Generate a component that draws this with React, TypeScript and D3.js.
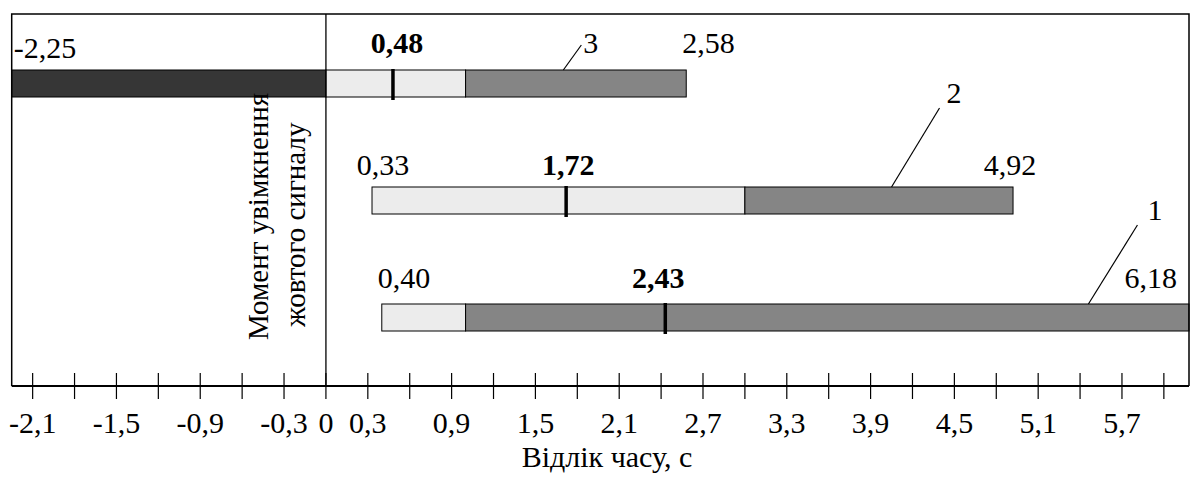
import React from "react";
import * as d3 from "d3";

// Rows (top to bottom) labelled by curve number
const rows = ["3", "2", "1"];
const preStart = [-2.25, null, null]; // dark segment before signal (row 3 only)
const starts = [0, 0.33, 0.4];
const lightEnds = [1.0, 3.0, 1.0];
const ends = [2.58, 4.92, 6.18];
const medians = [0.48, 1.72, 2.43];
const leaderAt = [1.7, 4.05, 5.46];

const tickValues = [-2.1, -1.8, -1.5, -1.2, -0.9, -0.6, -0.3, 0, 0.3, 0.6, 0.9, 1.2, 1.5, 1.8, 2.1, 2.4, 2.7, 3.0, 3.3, 3.6, 3.9, 4.2, 4.5, 4.8, 5.1, 5.4, 5.7, 6.0];
const tickLabels = [-2.1, -1.5, -0.9, -0.3, 0, 0.3, 0.9, 1.5, 2.1, 2.7, 3.3, 3.9, 4.5, 5.1, 5.7];

const axisTitle = "Відлік часу, с";
const noteLines = ["Момент увімкнення", "жовтого сигналу"];

const fmt = (v: number) => String(v).replace(".", ",").replace(/^-0$/, "0");
const fmt2 = (v: number) => v.toFixed(2).replace(".", ",");

const TS = { fontFamily: "Times New Roman" };

export default function App() {
  const W = 1191, H = 481;
  const left = 11.7, right = 1189, top = 14, axisY = 386;
  const x = d3.scaleLinear().domain([-2.25, 6.18]).range([left, right]);
  const y = d3.scalePoint<string>().domain(rows).range([83.5, 317.5]);
  const bh = 27;
  const dark = "#363636", light = "#ececec", gray = "#858585";

  // label styling per row (anchor / offsets)
  const startLbl = [
    { anchor: "start", dx: 2, dy: -12 },
    { anchor: "middle", dx: 11, dy: -12 },
    { anchor: "start", dx: -4, dy: -16 },
  ];
  const medLbl = [
    { dx: 4, dy: -17 },
    { dx: 2, dy: -12 },
    { dx: -7, dy: -16 },
  ];
  const endLbl = [
    { anchor: "start", dx: -4, dy: -17 },
    { anchor: "middle", dx: -3, dy: -12 },
    { anchor: "end", dx: -12, dy: -16 },
  ];
  const leader = [
    { dx: 18, dy: -25, tx: 20, ty: -17 },
    { dx: 48, dy: -79, tx: 55, ty: -84 },
    { dx: 49, dy: -79, tx: 59, ty: -84 },
  ];

  return (
    <svg width={W} height={H} style={{ position: "absolute", left: 0, top: 0 }}>
      <rect x={0} y={0} width={W} height={H} fill="#fff" />
      {rows.map((r, i) => {
        const yt = (y(r) as number) - bh / 2;
        const ps = preStart[i];
        const s = ps !== null ? ps : starts[i];
        return (
          <g key={r}>
            {ps !== null && (
              <rect x={x(ps)} y={yt} width={x(starts[i]) - x(ps)} height={bh} fill={dark} stroke="#000" strokeWidth={1} />
            )}
            <rect x={x(starts[i])} y={yt} width={x(lightEnds[i]) - x(starts[i])} height={bh} fill={light} stroke="#000" strokeWidth={1} />
            <rect x={x(lightEnds[i])} y={yt} width={x(ends[i]) - x(lightEnds[i])} height={bh} fill={gray} stroke="#000" strokeWidth={1} />
            <line x1={x(medians[i])} x2={x(medians[i])} y1={yt - 1} y2={yt + bh + 3} stroke="#000" strokeWidth={3.5} />
            <text x={x(s) + startLbl[i].dx} y={yt + startLbl[i].dy} fontSize={30} textAnchor={startLbl[i].anchor as any} style={TS}>
              {fmt2(s)}
            </text>
            <text x={x(medians[i]) + medLbl[i].dx} y={yt + medLbl[i].dy} fontSize={30} fontWeight="bold" textAnchor="middle" style={TS}>
              {fmt2(medians[i])}
            </text>
            <text x={x(ends[i]) + endLbl[i].dx} y={yt + endLbl[i].dy} fontSize={30} textAnchor={endLbl[i].anchor as any} style={TS}>
              {fmt2(ends[i])}
            </text>
            <line x1={x(leaderAt[i])} y1={yt} x2={x(leaderAt[i]) + leader[i].dx} y2={yt + leader[i].dy} stroke="#000" strokeWidth={1.2} />
            <text x={x(leaderAt[i]) + leader[i].tx} y={yt + leader[i].ty} fontSize={30} style={TS}>
              {r}
            </text>
          </g>
        );
      })}
      {/* zero line */}
      <line x1={x(0)} x2={x(0)} y1={top} y2={axisY} stroke="#000" strokeWidth={1.3} />
      {/* frame */}
      <path d={`M${left},${axisY} V${top} H${right} V${axisY}`} fill="none" stroke="#000" strokeWidth={1.5} />
      <line x1={left} x2={right} y1={axisY} y2={axisY} stroke="#000" strokeWidth={1.8} />
      {tickValues.map((t) => (
        <line key={t} x1={x(t)} x2={x(t)} y1={373} y2={399} stroke="#000" strokeWidth={1.2} />
      ))}
      {tickLabels.map((t) => (
        <text key={t} x={x(t)} y={433} fontSize={30} textAnchor="middle" style={TS}>
          {fmt(t)}
        </text>
      ))}
      <text x={607} y={467} fontSize={30} textAnchor="middle" style={TS}>
        {axisTitle}
      </text>
      <g transform={`translate(${x(0) - 58},340) rotate(-90)`}>
        <text x={0} y={0} fontSize={29} style={TS}>{noteLines[0]}</text>
      </g>
      <g transform={`translate(${x(0) - 21},${327}) rotate(-90)`}>
        <text x={0} y={0} fontSize={29} style={TS}>{noteLines[1]}</text>
      </g>
    </svg>
  );
}
